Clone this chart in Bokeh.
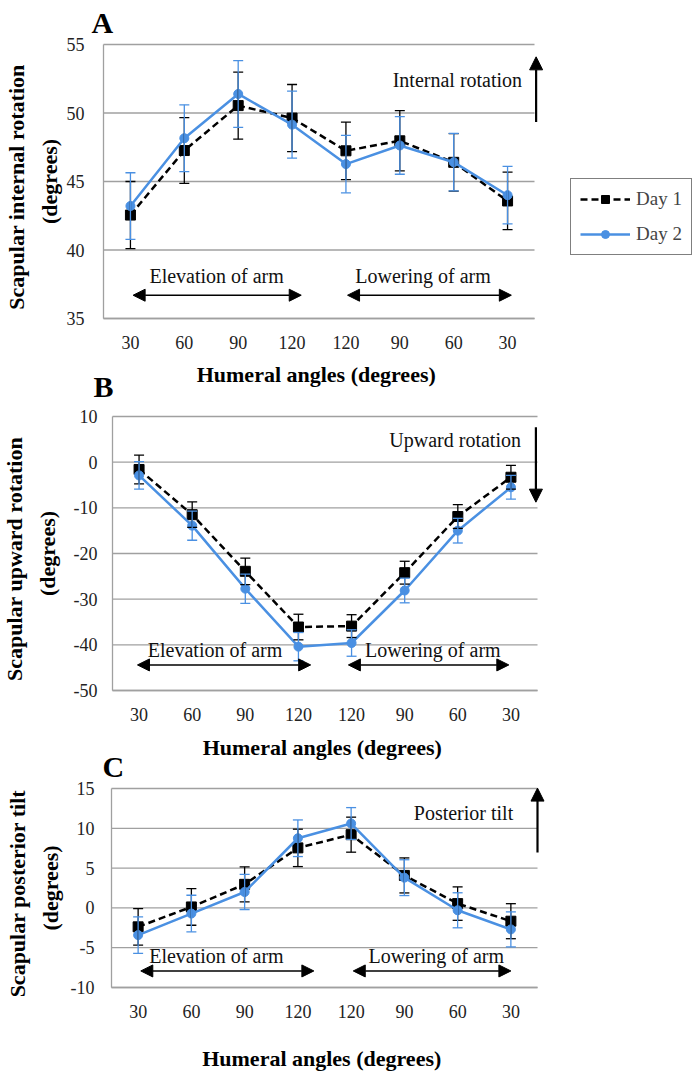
from bokeh.plotting import figure
from bokeh.layouts import column
from bokeh.models import (ColumnDataSource, Whisker, TeeHead, Arrow, NormalHead,
                          Label, Legend, LegendItem, FixedTicker, Range1d)
from bokeh.embed import file_html
from bokeh.resources import INLINE

# ---------------- data ----------------
angles = ["30", "60", "90", "120", "120", "90", "60", "30"]

a_day1 = [42.55, 47.26, 50.54, 49.63, 47.24, 47.97, 46.40, 43.58]
a_day1_err = [2.45, 2.40, 2.45, 2.45, 2.10, 2.20, 2.10, 2.10]
a_day2 = [43.21, 48.16, 51.39, 49.15, 46.27, 47.63, 46.41, 44.00]
a_day2_err = [2.43, 2.44, 2.44, 2.44, 2.10, 2.10, 2.10, 2.10]

b_day1 = [-1.6, -11.5, -23.9, -36.1, -35.9, -24.2, -11.9, -3.3]
b_day1_err = [3.15, 2.8, 2.9, 2.8, 2.5, 2.5, 2.6, 2.6]
b_day2 = [-2.9, -13.9, -27.7, -40.4, -39.6, -28.1, -15.0, -5.5]
b_day2_err = [3.0, 3.2, 3.2, 3.1, 2.9, 2.7, 2.7, 2.6]

c_day1 = [-2.38, 0.12, 2.96, 7.54, 9.20, 4.08, 0.54, -1.67]
c_day1_err = [2.3, 2.3, 2.2, 2.35, 2.2, 2.2, 2.1, 2.2]
c_day2 = [-3.42, -0.71, 2.00, 8.75, 10.60, 3.80, -0.30, -2.70]
c_day2_err = [2.3, 2.3, 2.2, 2.3, 2.0, 2.25, 2.2, 2.2]

series_names = ["Day 1", "Day 2"]
x_title = "Humeral  angles (degrees)"

W = 698
SERIF = "Liberation Serif"
BLUE = "#4A90E2"
GRID = "#A0A0A0"
positions = list(range(1, len(angles) + 1))


def panel(H, fx0, fx1, fy0, fy1, ylo, yhi, ystep, ylabel, d1, e1, d2, e2,
          tick_standoff, ylabel_standoff, xlabel_standoff, xlabel=x_title):
    """fx0/fx1: pixel x of the category band edges, fy0/fy1: pixel y of yhi / ylo."""
    n = len(angles)
    kx = (fx1 - fx0) / n
    ky = (fy1 - fy0) / (yhi - ylo)
    xr = Range1d(0.5 - fx0 / kx, 0.5 + (W - fx0) / kx)
    yr = Range1d(ylo - (H - fy1) / ky, yhi + fy0 / ky)
    p = figure(width=W, height=H, output_backend="svg", toolbar_location=None,
               x_range=xr, y_range=yr, min_border=0)
    p.outline_line_color = None
    p.background_fill_color = "white"
    p.border_fill_color = "white"
    p.xgrid.grid_line_color = None
    p.ygrid.grid_line_color = None

    yticks = list(range(ylo, yhi + 1, ystep))
    # horizontal grid lines limited to the category band
    p.segment(x0=[0.5] * len(yticks), x1=[n + 0.5] * len(yticks), y0=yticks, y1=yticks,
              line_color=GRID, line_width=1.3)

    p.yaxis.ticker = FixedTicker(ticks=yticks)
    p.yaxis.major_label_overrides = {t: str(t) for t in yticks}
    p.xaxis.ticker = FixedTicker(ticks=positions)
    p.xaxis.major_label_overrides = {i: a for i, a in zip(positions, angles)}
    p.xaxis.fixed_location = ylo
    p.yaxis.fixed_location = 0.5
    p.xaxis.bounds = (0.5, n + 0.5)
    p.yaxis.bounds = (ylo, yhi)
    for ax in (p.xaxis[0], p.yaxis[0]):
        ax.axis_line_color = GRID
        ax.axis_line_width = 1.3
        ax.major_tick_line_color = None
        ax.minor_tick_line_color = None
        ax.major_tick_out = 0
        ax.major_tick_in = 0
        ax.major_label_text_font = SERIF
        ax.major_label_text_font_size = "18px"
        ax.major_label_text_color = "#222222"
        ax.axis_label_text_font = SERIF
        ax.axis_label_text_font_style = "bold"
        ax.axis_label_text_font_size = "22px"
        ax.axis_label_text_color = "black"
    p.xaxis.major_label_standoff = 17
    p.yaxis.major_label_standoff = tick_standoff
    if xlabel:
        p.xaxis.axis_label = xlabel
        p.xaxis.axis_label_standoff = xlabel_standoff
    p.yaxis.axis_label = ylabel
    p.yaxis.axis_label_standoff = ylabel_standoff
    p.yaxis.axis_label_text_line_height = 1.3

    items = []
    for d, e, color, dash, marker, msize, lw, name in (
            (d1, e1, "black", "7 4", "square", 10, 2.5, series_names[0]),
            (d2, e2, BLUE, "solid", "circle", 9, 2.5, series_names[1])):
        src = ColumnDataSource(dict(x=positions, y=d,
                                    up=[v + s for v, s in zip(d, e)],
                                    lo=[v - s for v, s in zip(d, e)]))
        w = Whisker(source=src, base="x", upper="up", lower="lo", line_color=color,
                    line_width=1.3, level="glyph",
                    upper_head=TeeHead(size=10, line_color=color, line_width=1.3),
                    lower_head=TeeHead(size=10, line_color=color, line_width=1.3))
        p.add_layout(w)
        lr = p.line("x", "y", source=src, line_color=color, line_width=lw, line_dash=dash)
        sr = p.scatter("x", "y", source=src, marker=marker, size=msize,
                       fill_color=color, line_color=color)
        items.append(LegendItem(label=name, renderers=[lr, sr]))
    return p, items


def text(p, x, y, s, align="center"):
    p.add_layout(Label(x=x, y=y, text=s, text_align=align, text_baseline="middle",
                       text_font=SERIF, text_font_size="20px", text_color="#111111"))


def harrow(p, x0, x1, y):
    p.add_layout(Arrow(x_start=x0, y_start=y, x_end=x1, y_end=y, line_width=1.6,
                       line_color="black",
                       start=NormalHead(size=12, fill_color="black", line_color="black"),
                       end=NormalHead(size=12, fill_color="black", line_color="black")))


def varrow(p, x, y0, y1):
    p.add_layout(Arrow(x_start=x, y_start=y0, x_end=x, y_end=y1, line_width=2.2,
                       line_color="black",
                       end=NormalHead(size=13, fill_color="black", line_color="black")))


def letter(p, x, y_top_px, H, s):
    # y_top_px: pixel row (from the top of this canvas) of the letter's text box top
    p.add_layout(Label(x=x, y=H - y_top_px, x_units="screen", y_units="screen", text=s,
                       text_font=SERIF, text_font_style="bold", text_font_size="30px",
                       text_baseline="top", text_color="black"))


HA, HB = 402, 328
HC = 1079 - HA - HB

# ---------- panel A ----------
pa, items = panel(HA, 103, 534, 44, 318, 35, 55, 5, "Scapular  internal  rotation\n(degrees)",
                  a_day1, a_day1_err, a_day2, a_day2_err, 19, 2, 10)
text(pa, 8.27, 52.4, "Internal rotation", align="right")
varrow(pa, 8.53, 49.35, 54.1)
text(pa, 2.6, 38.1, "Elevation of arm")
harrow(pa, 1.05, 4.17, 36.7)
text(pa, 6.43, 38.1, "Lowering of arm")
harrow(pa, 5.03, 8.07, 36.7)
letter(pa, 91, 5, HA, "A")
letter(pa, 93, 369, HA, "B")
legend = Legend(items=items, location=(570, HA - 255), orientation="vertical",
                border_line_color="black", border_line_width=1.2,
                background_fill_color="white", background_fill_alpha=1,
                label_text_font=SERIF, label_text_font_size="19px",
                glyph_width=50, glyph_height=20, label_standoff=6,
                padding=9, spacing=13, margin=0)
pa.add_layout(legend, "center")

# ---------- panel B ----------
top_b = HA
pb, _ = panel(HB, 112, 537, 416 - top_b, 690 - top_b, -50, 10, 10,
              "Scapular  upward  rotation\n(degrees)",
              b_day1, b_day1_err, b_day2, b_day2_err, 15, 11, 9, xlabel=None)
text(pb, 6.95, 4.96, "Upward rotation")
varrow(pb, 8.47, 7.66, -8.76)
text(pb, 2.43, -41.2, "Elevation of arm")
harrow(pb, 0.97, 4.23, -44.4)
text(pb, 6.53, -41.2, "Lowering of arm")
harrow(pb, 4.94, 7.96, -44.4)

# ---------- panel C ----------
top_c = HA + HB
pc, _ = panel(HC, 111, 537, 788 - top_c, 987 - top_c, -10, 15, 5,
              "Scapular  posterior  tilt\n(degrees)",
              c_day1, c_day1_err, c_day2, c_day2_err, 17, 5, 25)
text(pc, 7.11, 11.96, "Posterior tilt")
varrow(pc, 8.5, 6.96, 15.05)
text(pc, 2.47, -6.08, "Elevation of arm")
harrow(pc, 1.05, 4.3, -7.92)
text(pc, 6.6, -6.08, "Lowering of arm")
harrow(pc, 5.04, 8.0, -7.92)
# x-axis title of panel B (sits in the gap above panel C) and the panel letter C
pc.add_layout(Label(x=(112 + 537) / 2, y=HC - (747 - top_c), x_units="screen", y_units="screen",
                    text=x_title, text_align="center", text_baseline="middle",
                    text_font=SERIF, text_font_style="bold", text_font_size="22px",
                    text_color="black"))
letter(pc, 102, 749 - top_c, HC, "C")

layout = column(pa, pb, pc, spacing=0)
open("out.html", "w").write(file_html(layout, INLINE))
